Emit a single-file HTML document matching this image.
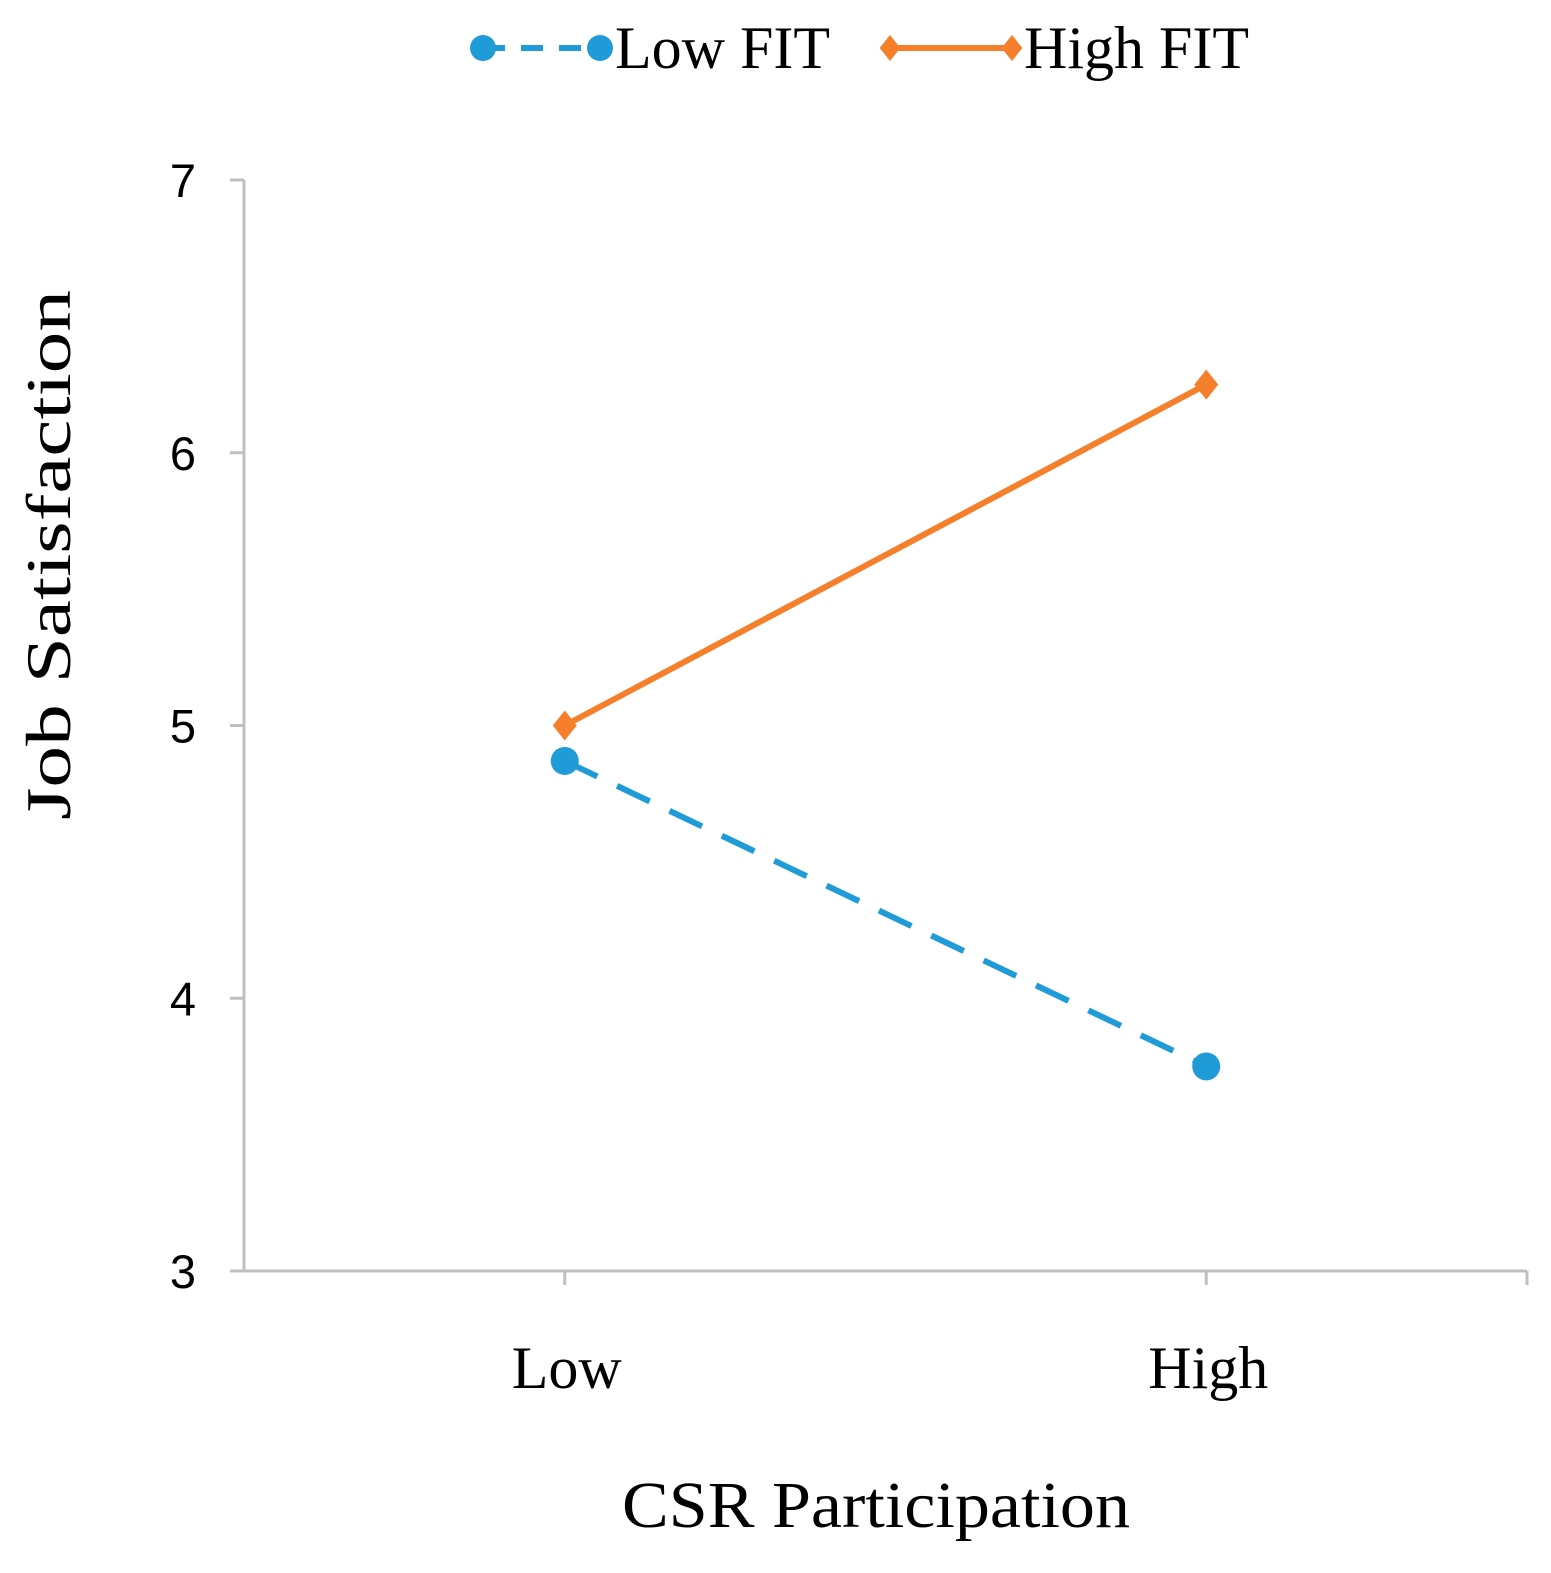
<!DOCTYPE html>
<html><head><meta charset="utf-8"><style>
html,body{margin:0;padding:0;background:#fff;overflow:hidden;width:1551px;height:1573px;}
svg{display:block;}
.serif{font-family:"Liberation Serif",serif;fill:#000;}
.sans{font-family:"Liberation Sans",sans-serif;fill:#000;}
</style></head><body>
<svg id="chart" width="1551" height="1573" viewBox="0 0 1551 1573">
<g id="axes"></g>
<g id="series"></g>
<g id="legend"></g>
<text class="serif" x="876" y="1527" font-size="66" text-anchor="middle" textLength="508" lengthAdjust="spacingAndGlyphs">CSR Participation</text>
<text class="serif" transform="translate(70,555) rotate(-90)" font-size="64" text-anchor="middle" textLength="530" lengthAdjust="spacingAndGlyphs">Job Satisfaction</text>
</svg>
<script>
const categories = ["Low", "High"];
const seriesNames = ["Low FIT", "High FIT"];
const lowFit = [4.87, 3.75];
const highFit = [5.0, 6.25];
const yTicks = [3, 4, 5, 6, 7];

const NS = "http://www.w3.org/2000/svg";
const x0 = 244, x1 = 1527, yTop = 180, yBot = 1271, yMin = 3, yMax = 7;
const band = (x1 - x0) / categories.length;
const xs = i => x0 + band * (i + 0.5);
const ys = v => yBot - (v - yMin) / (yMax - yMin) * (yBot - yTop);
function mk(tag, attrs, parent) {
  const e = document.createElementNS(NS, tag);
  for (const k in attrs) e.setAttribute(k, attrs[k]);
  parent.appendChild(e);
  return e;
}
const axes = document.getElementById('axes');
const series = document.getElementById('series');
const legend = document.getElementById('legend');
const grey = "#bfbfbf";

let el = mk('line', {x1: x0, y1: yTop, x2: x0, y2: yBot, stroke: grey, 'stroke-width': 3}, axes);


el = mk('line', {x1: x0, y1: yBot, x2: x1, y2: yBot, stroke: grey, 'stroke-width': 3}, axes);



yTicks.forEach(t => {
  const y = ys(t);
  let tk = mk('line', {x1: x0 - 14, y1: y, x2: x0, y2: y, stroke: grey, 'stroke-width': 3}, axes);
  
  
  let lb = mk('text', {x: 196, y: y + 17, 'font-size': 47, 'text-anchor': 'end', class: 'sans'}, axes);
  lb.textContent = t;
  
  
});
categories.forEach((c, i) => {
  let tk = mk('line', {x1: xs(i), y1: yBot, x2: xs(i), y2: yBot + 14, stroke: grey, 'stroke-width': 3}, axes);
  
  
  let lb = mk('text', {x: xs(i) + 2, y: 1388, 'font-size': 60, 'text-anchor': 'middle', class: 'serif'}, axes);
  lb.textContent = c;
  
  
});
let tkEnd = mk('line', {x1: x1, y1: yBot, x2: x1, y2: yBot + 14, stroke: grey, 'stroke-width': 3}, axes);



const blue = "#1f9bd7", orange = "#f57f2a";
function diamond(cx, cy, r, parent) {
  return mk('polygon', {points: `${cx},${cy-r} ${cx+r*0.8},${cy} ${cx},${cy+r} ${cx-r*0.8},${cy}`, fill: orange}, parent);
}
let p = mk('polyline', {points: lowFit.map((v, i) => xs(i) + ',' + ys(v)).join(' '), fill: 'none', stroke: blue, 'stroke-width': 6, 'stroke-dasharray': '36,22'}, series);


lowFit.forEach((v, i) => {
  let c = mk('circle', {cx: xs(i), cy: ys(v), r: 14, fill: blue}, series);
  
  
});
p = mk('polyline', {points: highFit.map((v, i) => xs(i) + ',' + ys(v)).join(' '), fill: 'none', stroke: orange, 'stroke-width': 6}, series);


highFit.forEach((v, i) => {
  let d = diamond(xs(i), ys(v), 15, series);
  
  
});

let g1 = mk('g', {}, legend);


mk('line', {x1: 483, y1: 48, x2: 600, y2: 48, stroke: blue, 'stroke-width': 6, 'stroke-dasharray': '22,16'}, g1);
mk('circle', {cx: 483, cy: 48, r: 13, fill: blue}, g1);
mk('circle', {cx: 600, cy: 48, r: 13, fill: blue}, g1);
let t1 = mk('text', {x: 615, y: 68, 'font-size': 60, class: 'serif'}, g1);
t1.textContent = seriesNames[0];
let g2 = mk('g', {}, legend);


mk('line', {x1: 890, y1: 48, x2: 1012, y2: 48, stroke: orange, 'stroke-width': 6}, g2);
diamond(890, 48, 13, g2);
diamond(1012, 48, 13, g2);
let t2 = mk('text', {x: 1024, y: 68, 'font-size': 60, class: 'serif'}, g2);
t2.textContent = seriesNames[1];
</script>
</body></html>
